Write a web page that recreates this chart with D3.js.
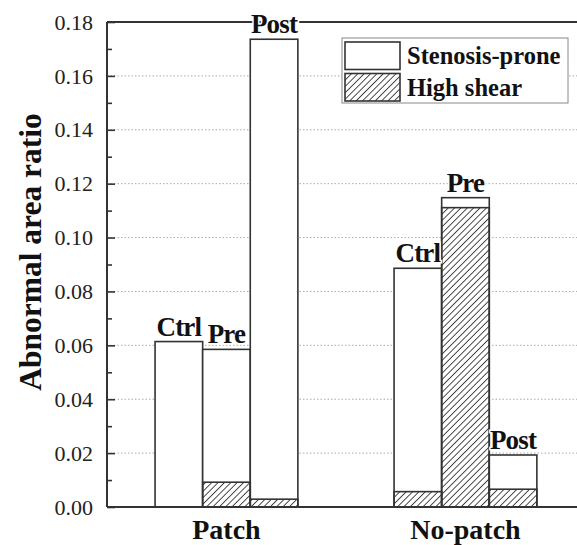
<!DOCTYPE html>
<meta http-equiv="Content-type" content="text/html; charset=UTF-8"/>
<style>
  body { margin: 0; background: #fff; }
</style>
<svg width="577" height="545"></svg>
<script src="https://d3js.org/d3.v7.min.js"></script>
<script>
var groups = ["Patch", "No-patch"];
var conditions = ["Ctrl", "Pre", "Post"];
// stenosis-prone area ratio, per group, per condition
var stenosis = [[0.0614, 0.0585, 0.1736], [0.0886, 0.1148, 0.0193]];
// high shear area ratio
var highShear = [[0, 0.0092, 0.0029], [0.0057, 0.1111, 0.0066]];
var yTicks = [0, 0.02, 0.04, 0.06, 0.08, 0.10, 0.12, 0.14, 0.16, 0.18];
var yMinor = [0.01, 0.03, 0.05, 0.07, 0.09, 0.11, 0.13, 0.15, 0.17];
var legendItems = ["Stenosis-prone", "High shear"];

var serif = "'Liberation Serif', 'Times New Roman', Times, serif";
var svg = d3.select("svg").style("font-family", serif),
    pLeft = 107, pRight = 577, pTop = 22, pBottom = 507;

var defs = svg.append("defs");
defs.append("pattern")
    .attr("id", "hatch")
    .attr("patternUnits", "userSpaceOnUse")
    .attr("width", 4.5).attr("height", 4.5)
    .attr("patternTransform", "rotate(45)")
  .append("line")
    .attr("x1", 0).attr("y1", 0).attr("x2", 0).attr("y2", 4.5)
    .attr("stroke", "#111").attr("stroke-width", 1.5);

var x = d3.scaleBand()
    .domain(groups)
    .range([pLeft, pRight])
    .paddingInner(0.4025)
    .paddingOuter(0.1845)
    .align(0.545);

var xi = d3.scaleBand()
    .domain(conditions)
    .range([0, x.bandwidth()]);

var y = d3.scaleLinear()
    .domain([0, 0.18])
    .range([pBottom, pTop]);

// dotted grid
svg.append("g").selectAll("line")
    .data(yTicks.slice(1, -1))
  .enter().append("line")
    .attr("x1", pLeft).attr("x2", pRight)
    .attr("y1", function(d) { return y(d); })
    .attr("y2", function(d) { return y(d); })
    .attr("stroke", "#aaa")
    .attr("stroke-width", 1)
    .attr("stroke-dasharray", "1.5,2");

var rows = [];
groups.forEach(function(g, i) {
  conditions.forEach(function(c, j) {
    rows.push({group: g, cond: c, sten: stenosis[i][j], shear: highShear[i][j]});
  });
});

var bars = svg.append("g");

bars.selectAll(".sten")
    .data(rows)
  .enter().append("rect")
    .attr("x", function(d) { return x(d.group) + xi(d.cond); })
    .attr("y", function(d) { return y(d.sten); })
    .attr("width", xi.bandwidth())
    .attr("height", function(d) { return y(0) - y(d.sten); })
    .attr("fill", "#fff")
    .attr("stroke", "#333")
    .attr("stroke-width", 1.6);

bars.selectAll(".shear")
    .data(rows.filter(function(d) { return d.shear > 0; }))
  .enter().append("rect")
    .attr("x", function(d) { return x(d.group) + xi(d.cond); })
    .attr("y", function(d) { return y(d.shear); })
    .attr("width", xi.bandwidth())
    .attr("height", function(d) { return y(0) - y(d.shear); })
    .attr("fill", "url(#hatch)")
    .attr("stroke", "#333")
    .attr("stroke-width", 1.6);

// frame
var frame = svg.append("g").attr("stroke", "#333").attr("stroke-width", 2);
frame.append("line").attr("x1", pLeft).attr("x2", pRight).attr("y1", pTop).attr("y2", pTop);
frame.append("line").attr("x1", pLeft).attr("x2", pRight).attr("y1", pBottom).attr("y2", pBottom);

// bar labels (white halo breaks the frame line behind "Post")
svg.append("g").selectAll("text")
    .data(rows)
  .enter().append("text")
    .attr("x", function(d) { return x(d.group) + xi(d.cond) + xi.bandwidth() / 2; })
    .attr("y", function(d) { return y(d.sten) - 6; })
    .attr("text-anchor", "middle")
    .style("font-size", "27px")
    .style("font-weight", "bold")
    .style("letter-spacing", "-0.8px")
    .style("paint-order", "stroke")
    .attr("stroke", "#fff")
    .attr("stroke-width", 3)
    .attr("fill", "#111")
    .text(function(d) { return d.cond; });

// y axis, ticks inside
var yAxis = svg.append("g")
    .attr("transform", "translate(" + pLeft + ",0)")
    .call(d3.axisRight(y).tickValues(yTicks).tickSize(8).tickFormat(""));
yAxis.select(".domain").attr("stroke", "#333").attr("stroke-width", 2).attr("d", "M0," + pTop + "V" + pBottom);
yAxis.selectAll(".tick line").attr("stroke", "#333").attr("stroke-width", 1.6);

var yAxisMinor = svg.append("g")
    .attr("transform", "translate(" + pLeft + ",0)")
    .call(d3.axisRight(y).tickValues(yMinor).tickSize(5).tickFormat(""));
yAxisMinor.select(".domain").remove();
yAxisMinor.selectAll(".tick line").attr("stroke", "#333").attr("stroke-width", 1.6);

svg.append("g").selectAll("text")
    .data(yTicks)
  .enter().append("text")
    .attr("x", pLeft - 14)
    .attr("y", function(d) { return y(d); })
    .attr("dy", "0.35em")
    .attr("text-anchor", "end")
    .style("font-size", "22px")
    .attr("fill", "#222")
    .text(d3.format(".2f"));

// y title
svg.append("text")
    .attr("transform", "translate(41,252) rotate(-90)")
    .attr("text-anchor", "middle")
    .style("font-size", "31.5px")
    .style("font-weight", "bold")
    .attr("fill", "#111")
    .text("Abnormal area ratio");

// x labels
svg.append("g").selectAll("text")
    .data(groups)
  .enter().append("text")
    .attr("x", function(d) { return x(d) + x.bandwidth() / 2; })
    .attr("y", 539)
    .attr("text-anchor", "middle")
    .style("font-size", "28px")
    .style("font-weight", "bold")
    .attr("fill", "#111")
    .text(function(d) { return d; });

// legend
var legend = svg.append("g").attr("transform", "translate(342,38)");
legend.append("rect")
    .attr("width", 226).attr("height", 65)
    .attr("fill", "#fff").attr("stroke", "#888").attr("stroke-width", 1);
legend.selectAll(".sw")
    .data(legendItems)
  .enter().append("rect")
    .attr("x", 3)
    .attr("y", function(d, i) { return 4 + i * 31.5; })
    .attr("width", 55).attr("height", 27.5)
    .attr("fill", function(d, i) { return i ? "url(#hatch)" : "#fff"; })
    .attr("stroke", "#333").attr("stroke-width", 1.6);
legend.selectAll(".lt")
    .data(legendItems)
  .enter().append("text")
    .attr("x", 65)
    .attr("y", function(d, i) { return 26 + i * 31.5; })
    .style("font-size", "24.5px")
    .style("font-weight", "bold")
    .attr("fill", "#111")
    .text(function(d) { return d; });
</script>
